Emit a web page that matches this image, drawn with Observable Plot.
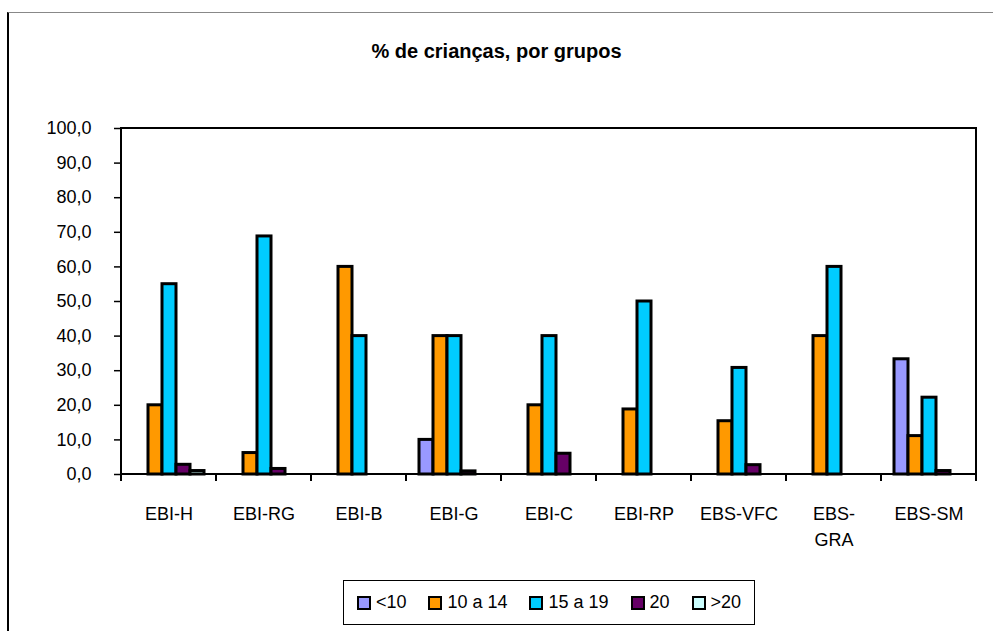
<!DOCTYPE html>
<html>
<head>
<meta charset="utf-8">
<script src="https://cdn.jsdelivr.net/npm/d3@7"></script>
<script src="https://cdn.jsdelivr.net/npm/@observablehq/plot@0.6"></script>
<style>
  html, body { margin: 0; padding: 0; background: #fff; }
  #wrap { position: relative; width: 993px; height: 631px; overflow: hidden; font-family: "Liberation Sans", Arial, sans-serif; }
  #frame { position: absolute; left: 7px; top: 12px; width: 990px; height: 630px; border-left: 2px solid #000; border-top: 1.5px solid #888; box-sizing: border-box; }
  #title { position: absolute; top: 40px; left: 0; width: 993px; text-align: center; font-weight: bold; font-size: 20px; color: #000; }
  #legend { position: absolute; left: 343px; top: 580px; width: 412px; height: 45px; border: 1.5px solid #000; box-sizing: border-box; display: flex; align-items: center; justify-content: center; gap: 22px; font-size: 18px; }
  .item { display: flex; align-items: center; gap: 5px; }
  .sw { width: 10px; height: 10px; border: 2px solid #000; box-sizing: content-box; }
  #chart { position: absolute; left: 0; top: 0; }
</style>
</head>
<body>
<div id="wrap">
  <div id="frame"></div>
  <div id="chart"></div>
  <div id="title"></div>
  <div id="legend"></div>
</div>
<script>
const titleText = "% de crianças, por grupos";
const categories = ["EBI-H", "EBI-RG", "EBI-B", "EBI-G", "EBI-C", "EBI-RP", "EBS-VFC", "EBS-GRA", "EBS-SM"];
const categoryLabels = ["EBI-H", "EBI-RG", "EBI-B", "EBI-G", "EBI-C", "EBI-RP", "EBS-VFC", "EBS-\nGRA", "EBS-SM"];
const seriesNames = ["<10", "10 a 14", "15 a 19", "20", ">20"];
const seriesColors = ["#9999FF", "#FF9900", "#00CCFF", "#660066", "#CCFFFF"];
const lt10   = [0, 0, 0, 10, 0, 0, 0, 0, 33.3];
const a10_14 = [20, 6.2, 60, 40, 20, 18.8, 15.4, 40, 11.1];
const a15_19 = [55, 68.8, 40, 40, 40, 50, 30.8, 60, 22.2];
const v20    = [2.8, 1.6, 0, 0.9, 6, 0, 2.7, 0, 1];
const gt20   = [1, 0, 0, 0, 0, 0, 0, 0, 0];
const yTicks = [0, 10, 20, 30, 40, 50, 60, 70, 80, 90, 100];

const seriesValues = [lt10, a10_14, a15_19, v20, gt20];
const data = [];
categories.forEach((c, i) => {
  seriesNames.forEach((s, j) => {
    const v = seriesValues[j][i];
    if (v > 0) data.push({cat: c, series: s, value: v});
  });
});

const W = 993, H = 631;
const plot = Plot.plot({
  width: W,
  height: H,
  marginLeft: 117,
  marginRight: 14,
  marginTop: 128,
  marginBottom: 157,
  style: {fontFamily: "'Liberation Sans', Arial, sans-serif", fontSize: "18px", color: "#000", background: "transparent"},
  fx: {domain: categories, padding: 0},
  x: {domain: seriesNames, paddingInner: 0, paddingOuter: 0.8, axis: null},
  y: {domain: [0, 100]},
  color: {domain: seriesNames, range: seriesColors},
  marks: [
    Plot.barY(data, {fx: "cat", x: "series", y: "value", fill: "series", stroke: "#000", strokeWidth: 3}),
    Plot.axisY({ticks: yTicks, tickSize: 7, tickPadding: 23, tickFormat: d => d.toFixed(1).replace(".", ","), label: null, stroke: "#000", strokeWidth: 1.5, fill: "#000"}),
    Plot.axisFx({anchor: "bottom", tickSize: 0, tickPadding: 28, label: null, lineHeight: 1.4, tickFormat: d => categoryLabels[categories.indexOf(d)], fill: "#000"})
  ]
});
document.getElementById("chart").appendChild(plot);

// plot frame and category boundary ticks, positioned through Plot's own scales
const fx = plot.scale("fx");
const ys = plot.scale("y");
const svg = d3.select(plot);
const x0 = fx.apply(categories[0]);
const x1 = fx.apply(categories[categories.length - 1]) + fx.bandwidth;
const yTop = ys.apply(100), yBot = ys.apply(0);
const g = svg.append("g").attr("stroke", "#000").attr("fill", "none");
g.append("rect").attr("x", x0).attr("y", yTop).attr("width", x1 - x0).attr("height", yBot - yTop).attr("stroke-width", 2);
const bounds = categories.map(c => fx.apply(c)).concat([x1]);
g.selectAll("line").data(bounds).join("line")
  .attr("x1", d => d).attr("x2", d => d)
  .attr("y1", yBot).attr("y2", yBot + 7)
  .attr("stroke-width", 2);

document.getElementById("title").textContent = titleText;
const legend = document.getElementById("legend");
seriesNames.forEach((s, j) => {
  const it = document.createElement("div");
  it.className = "item";
  const sw = document.createElement("div");
  sw.className = "sw";
  sw.style.background = seriesColors[j];
  const t = document.createElement("span");
  t.textContent = s;
  it.appendChild(sw); it.appendChild(t);
  legend.appendChild(it);
});
</script>
</body>
</html>
